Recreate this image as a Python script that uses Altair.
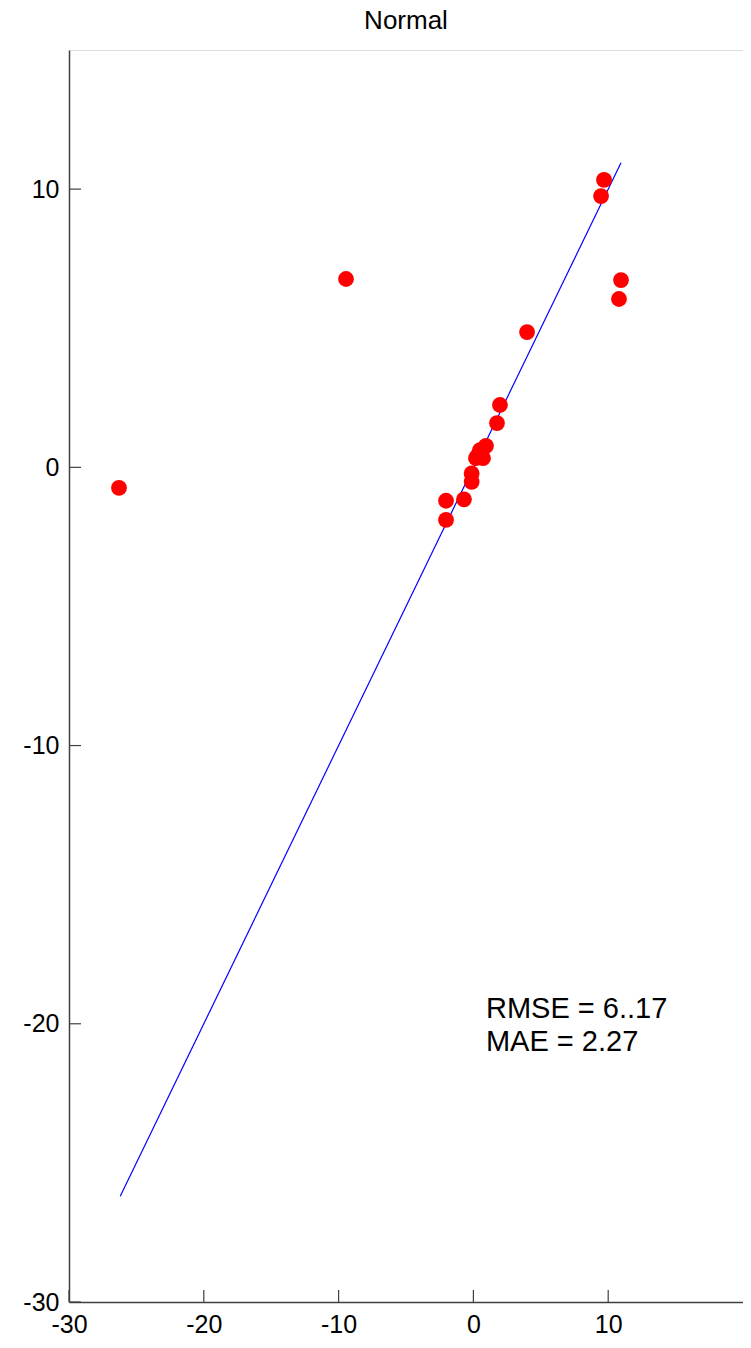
import altair as alt
import pandas as pd

# Data
x_vals = [-26.29, -9.45, 9.69, 9.47, 10.95, 10.80, 3.98, 1.97, 1.75,
          0.93, 0.49, 0.71, 0.19, 0.34, 0.60, -0.13, -0.13, -2.03, -0.70, -2.03]
y_vals = [-0.74, 6.77, 10.33, 9.75, 6.73, 6.05, 4.86, 2.24, 1.59,
          0.77, 0.62, 0.33, 0.33, 0.44, 0.55, -0.22, -0.52, -1.20, -1.15, -1.89]
line_x = [-26.2, 10.95]
line_y = [-26.2, 10.95]
x_ticks = [-30, -20, -10, 0, 10]
y_ticks = [-30, -20, -10, 0, 10]
title_text = ["Normal"]
stats_text = ["RMSE = 6..17", "MAE = 2.27"]
stats_anchor_x = [0.93]
stats_anchor_y = [-19.8]

W, H = 674, 1252
FONT = "Liberation Sans"

pts = pd.DataFrame({"x": x_vals, "y": y_vals})
ln = pd.DataFrame({"x": line_x, "y": line_y})
xt = pd.DataFrame({"v": x_ticks})
yt = pd.DataFrame({"v": y_ticks})
ttl = pd.DataFrame({"t": title_text})
txt = pd.DataFrame({"x": stats_anchor_x, "y": stats_anchor_y,
                    "t": ["\n".join(stats_text)]})

xs = alt.Scale(domain=[-30, 20], nice=False, zero=False)
ys = alt.Scale(domain=[-30, 15], nice=False, zero=False)

axis_common = dict(ticks=False, grid=False, title=None,
                   labelFont=FONT, labelFontSize=25, labelColor="black",
                   labelPadding=10, domainColor="#404040", domainWidth=1.5,
                   labelFlush=False, labelOverlap=False,
                   labelExpr="'' + datum.value")
x_axis = alt.Axis(values=x_ticks, **axis_common)
y_axis = alt.Axis(values=y_ticks, **axis_common)

base_pts = alt.Chart(pts).mark_circle(size=250, color="#ff0000", opacity=1).encode(
    x=alt.X("x:Q", scale=xs, axis=x_axis),
    y=alt.Y("y:Q", scale=ys, axis=y_axis),
)

line = alt.Chart(ln).mark_line(color="#0000ff", strokeWidth=1.2).encode(
    x=alt.X("x:Q", scale=xs),
    y=alt.Y("y:Q", scale=ys),
)

xtick = alt.Chart(xt).mark_rule(color="#404040", strokeWidth=1.2).encode(
    x=alt.X("v:Q", scale=xs),
    y=alt.value(H),
    y2=alt.value(H - 12),
)
ytick = alt.Chart(yt).mark_rule(color="#404040", strokeWidth=1.2).encode(
    y=alt.Y("v:Q", scale=ys),
    x=alt.value(0),
    x2=alt.value(12),
)

text = alt.Chart(txt).mark_text(
    align="left", baseline="alphabetic", font=FONT, fontSize=29,
    color="black", lineBreak="\n", lineHeight=33
).encode(
    x=alt.X("x:Q", scale=xs),
    y=alt.Y("y:Q", scale=ys),
    text="t:N",
)

title = alt.Chart(ttl).mark_text(
    align="center", baseline="middle", font=FONT, fontSize=26, color="black"
).encode(
    x=alt.value(W / 2),
    y=alt.value(-29),
    text="t:N",
)

chart = alt.layer(line, base_pts, xtick, ytick, text, title).properties(
    width=W, height=H,
    autosize=alt.AutoSizeParams(type="none"),
    padding={"left": 61, "top": 42, "right": 0, "bottom": 38},
).configure_view(stroke=None).configure(background="white")

chart.save("out.html", embed_options={"renderer": "svg", "actions": False})
